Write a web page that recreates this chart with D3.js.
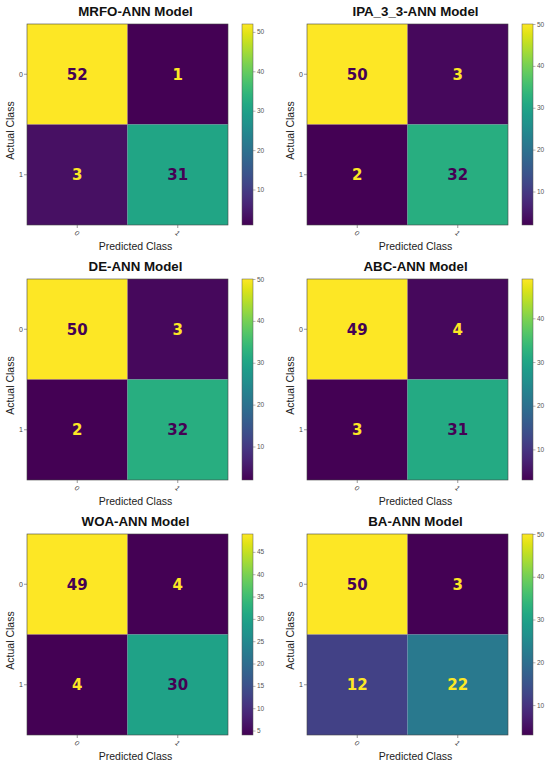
<!DOCTYPE html>
<html>
<head>
<meta charset="utf-8">
<script src="https://cdn.jsdelivr.net/npm/d3@7"></script>
<style>
  html, body { margin: 0; padding: 0; background: #fff; }
  svg { display: block; }
</style>
</head>
<body>
<svg id="viz" width="550" height="766"></svg>
<script>
/* ---------- data ---------- */
const models = ["MRFO-ANN Model", "IPA_3_3-ANN Model", "DE-ANN Model",
                "ABC-ANN Model", "WOA-ANN Model", "BA-ANN Model"];
const classes = ["0", "1"];
const matrices = [
  [[52, 1], [3, 31]],
  [[50, 3], [2, 32]],
  [[50, 3], [2, 32]],
  [[49, 4], [3, 31]],
  [[49, 4], [4, 30]],
  [[50, 3], [12, 22]]
];
const colorbarTicks = [
  [10, 20, 30, 40, 50],
  [10, 20, 30, 40, 50],
  [10, 20, 30, 40, 50],
  [10, 20, 30, 40],
  [5, 10, 15, 20, 25, 30, 35, 40, 45],
  [10, 20, 30, 40, 50]
];

/* ---------- layout ---------- */
const svg = d3.select("#viz");
const colX = [27, 307];
const rowY = [24, 279, 534];
const size = 201;
const cbGap = 215, cbW = 11;
const labelFont = "'Liberation Sans', Arial, sans-serif";
const cellFont = "'DejaVu Sans', sans-serif";

const defs = svg.append("defs");

models.forEach((name, i) => {
  const cm = matrices[i];
  const x0 = colX[i % 2];
  const y0 = rowY[Math.floor(i / 2)];
  const flat = cm.flat();
  const vmin = d3.min(flat), vmax = d3.max(flat);
  const thresh = (vmin + vmax) / 2;
  const color = d3.scaleSequential(d3.interpolateViridis).domain([vmin, vmax]);

  const g = svg.append("g").attr("transform", `translate(${x0},${y0})`);

  const x = d3.scaleBand().domain(classes).range([0, size]);
  const y = d3.scaleBand().domain(classes).range([0, size]);

  const cells = [];
  cm.forEach((row, r) => row.forEach((v, c) => cells.push({ r, c, v })));

  g.selectAll("rect.cell")
    .data(cells)
    .enter()
    .append("rect")
    .attr("class", "cell")
    .attr("x", (d) => x(classes[d.c]))
    .attr("y", (d) => y(classes[d.r]))
    .attr("width", x.bandwidth())
    .attr("height", y.bandwidth())
    .attr("fill", (d) => color(d.v));

  // text colour: sklearn style, low cells get the top of the map
  g.selectAll("text.val")
    .data(cells)
    .enter()
    .append("text")
    .attr("class", "val")
    .attr("x", (d) => x(classes[d.c]) + x.bandwidth() / 2)
    .attr("y", (d) => y(classes[d.r]) + y.bandwidth() / 2)
    .attr("dy", "0.36em")
    .attr("text-anchor", "middle")
    .attr("font-family", cellFont)
    .attr("font-weight", "bold")
    .attr("font-size", 15)
    .attr("fill", (d) => (d.v < thresh ? d3.interpolateViridis(1) : d3.interpolateViridis(0)))
    .text((d) => d.v);

  g.append("rect")
    .attr("width", size)
    .attr("height", size)
    .attr("fill", "none")
    .attr("stroke", "#444")
    .attr("stroke-width", 0.6);

  // axes
  const yAxis = g.append("g").call(d3.axisLeft(y).tickSize(3).tickSizeOuter(0));
  const xAxis = g.append("g")
    .attr("transform", `translate(0,${size})`)
    .call(d3.axisBottom(x).tickSize(3).tickSizeOuter(0));
  [xAxis, yAxis].forEach((a) => {
    a.select(".domain").remove();
    a.selectAll(".tick line").attr("stroke", "#555").attr("stroke-width", 0.6);
    a.selectAll(".tick text")
      .attr("font-family", labelFont)
      .attr("font-size", 7)
      .attr("fill", "#444");
  });
  yAxis.selectAll(".tick text").attr("x", -4);
  xAxis.selectAll(".tick text")
    .attr("y", 0)
    .attr("dy", 0)
    .attr("text-anchor", "middle")
    .attr("transform", "translate(0,8) rotate(45)")
    .attr("dominant-baseline", "central");

  // titles
  g.append("text")
    .attr("x", size / 2 + 8)
    .attr("y", -8)
    .attr("text-anchor", "middle")
    .attr("font-family", labelFont)
    .attr("font-weight", "bold")
    .attr("font-size", 13.3)
    .attr("fill", "#111")
    .text(name);

  g.append("text")
    .attr("x", size / 2 + 8)
    .attr("y", size + 25)
    .attr("text-anchor", "middle")
    .attr("font-family", labelFont)
    .attr("font-size", 10.5)
    .attr("fill", "#222")
    .text("Predicted Class");

  g.append("text")
    .attr("transform", `translate(-13,${size / 2 + 6}) rotate(-90)`)
    .attr("text-anchor", "middle")
    .attr("font-family", labelFont)
    .attr("font-size", 10.5)
    .attr("fill", "#222")
    .text("Actual Class");

  // colorbar
  const gradId = "grad" + i;
  const grad = defs.append("linearGradient")
    .attr("id", gradId)
    .attr("x1", 0).attr("y1", 1).attr("x2", 0).attr("y2", 0);
  d3.range(0, 1.0001, 0.05).forEach((t) => {
    grad.append("stop")
      .attr("offset", t)
      .attr("stop-color", d3.interpolateViridis(t));
  });

  const cb = g.append("g").attr("transform", `translate(${cbGap},0)`);
  cb.append("rect")
    .attr("width", cbW)
    .attr("height", size)
    .attr("fill", `url(#${gradId})`)
    .attr("stroke", "#555")
    .attr("stroke-width", 0.5);

  const cbScale = d3.scaleLinear().domain([vmin, vmax]).range([size, 0]);
  const cbAxis = cb.append("g")
    .attr("transform", `translate(${cbW},0)`)
    .call(d3.axisRight(cbScale).tickValues(colorbarTicks[i]).tickSize(2.5).tickSizeOuter(0));
  cbAxis.select(".domain").remove();
  cbAxis.selectAll(".tick line").attr("stroke", "#666").attr("stroke-width", 0.5);
  cbAxis.selectAll(".tick text")
    .attr("x", 4)
    .attr("font-family", labelFont)
    .attr("font-size", 6.5)
    .attr("fill", "#555");
});
</script>
</body>
</html>
